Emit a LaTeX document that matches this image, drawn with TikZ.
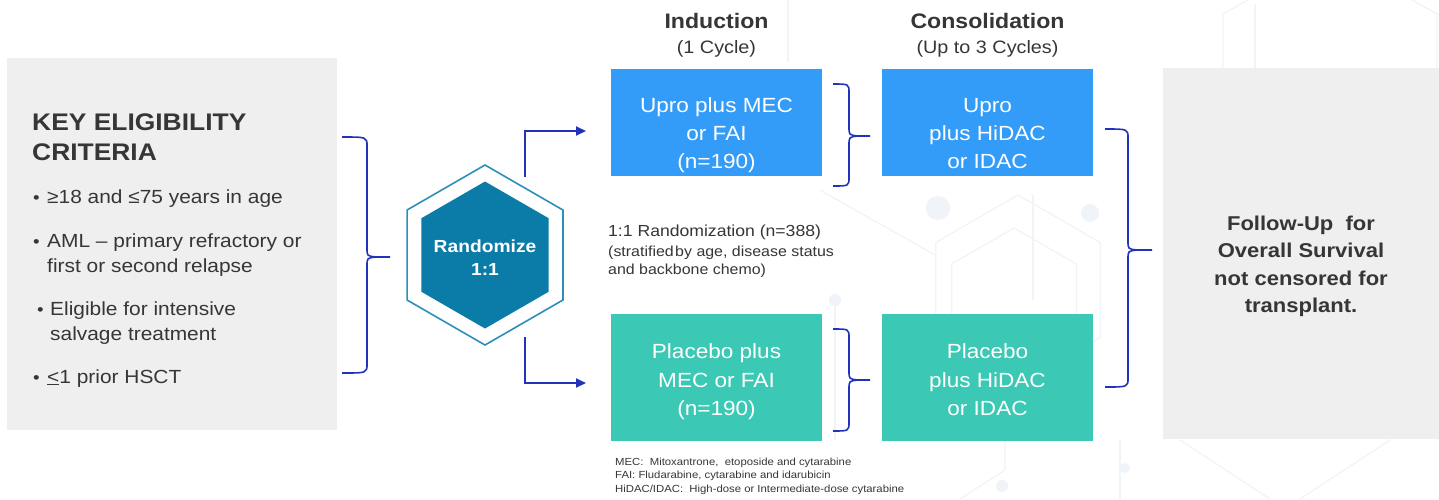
\documentclass[tikz,border=0pt]{standalone}
\usepackage{fontspec}
\setmainfont{Liberation Sans}[FakeStretch=1.1]
\usetikzlibrary{arrows.meta}

\definecolor{textdark}{HTML}{363636}
\definecolor{panelgrey}{HTML}{EFEFEF}
\definecolor{armblue}{HTML}{339CF8}
\definecolor{armteal}{HTML}{3BC8B4}
\definecolor{hexfill}{HTML}{0B7BA7}
\definecolor{hexline}{HTML}{2C8FBA}
\definecolor{linkblue}{HTML}{2233BB}
\definecolor{bgline}{HTML}{F0F3F7}

\newcommand{\setfs}[1]{\fontsize{#1}{#1}\selectfont}

% curly bracket: #1 start x, #2 spine x, #3 top y, #4 middle y, #5 bottom y, #6 tip x
\newcommand{\curlybrace}[6]{%
  \draw[bracket] (#1,#3) .. controls (#2,#3) .. (#2,#3+9) -- (#2,#4-9)
        .. controls (#2,#4-1) .. (#2+9,#4) -- (#6,#4);
  \draw[bracket] (#1,#5) .. controls (#2,#5) .. (#2,#5-9) -- (#2,#4+9)
        .. controls (#2,#4+1) .. (#2+9,#4);
}

\begin{document}
\begin{tikzpicture}[x=1pt,y=-1pt,
  lt/.style={inner sep=0pt, anchor=base west, text=textdark},
  ct/.style={inner sep=0pt, anchor=base, text=textdark},
  wt/.style={inner sep=0pt, anchor=base, text=white},
  panel/.style={fill=panelgrey, draw=none, inner sep=0pt, anchor=north west},
  armbox/.style={draw=none, inner sep=0pt, anchor=north west,
                 minimum width=211pt, minimum height=107pt},
  bracket/.style={draw=linkblue, line width=1.6pt},
  arr/.style={draw=linkblue, line width=2pt,
              -{Triangle[length=10pt,width=9pt]}},
  faint/.style={draw=bgline, line width=1.2pt}]

\useasboundingbox (0,0) rectangle (1439,499);
\fill[white] (0,0) rectangle (1439,499);

% faint hexagon network in the background
\draw[faint] (1018,290) ++(90:95) -- ++(210:95) -- ++(270:95) -- ++(330:95)
             -- ++(30:95) -- ++(90:95) -- cycle;
\draw[faint] (1014,300) ++(90:72) -- ++(210:72) -- ++(270:72) -- ++(330:72)
             -- ++(30:72) -- ++(90:72) -- cycle;
\draw[faint] (1033,195) -- (1033,300);
\draw[faint] (788,0) -- (788,62);
\draw[faint] (820,190) -- (935,255);
\draw[faint] (835,300) -- (835,440);
\fill[bgline] (938,208) circle (12);
\fill[bgline] (1090,213) circle (9);
\fill[bgline] (835,300) circle (6);
\draw[faint] (1223,68) -- (1223,14) -- (1248,0);
\draw[faint] (1255,68) -- (1255,4);
\draw[faint] (1437,68) -- (1437,14) -- (1412,0);
\draw[faint] (1180,440) -- (1270,499);
\draw[faint] (1300,499) -- (1390,440);
\draw[faint] (1120,440) -- (1120,499);
\fill[bgline] (1125,468) circle (5);
\draw[faint] (960,499) -- (1005,470) -- (1005,440);
\fill[bgline] (1002,486) circle (6);

% eligibility panel
\node[panel, minimum width=330pt, minimum height=372pt] (elig) at (7,58) {};
\node[lt, font=\setfs{24}\bfseries] (k1) at (32,130) {KEY ELIGIBILITY};
\node[lt, font=\setfs{24}\bfseries] (k2) at (32,160) {CRITERIA};
\node[lt, font=\setfs{17}] (b1) at (33,203) {•};
\node[lt, font=\setfs{19}] (c1) at (47,203) {≥18 and ≤75 years in age};
\node[lt, font=\setfs{17}] (b2) at (33,247) {•};
\node[lt, font=\setfs{19}] (c2a) at (47,247) {AML – primary refractory or};
\node[lt, font=\setfs{19}] (c2b) at (47,272) {first or second relapse};
\node[lt, font=\setfs{17}] (b3) at (37,315) {•};
\node[lt, font=\setfs{19}] (c3a) at (50,315) {Eligible for intensive};
\node[lt, font=\setfs{19}] (c3b) at (50,340) {salvage treatment};
\node[lt, font=\setfs{17}] (b4) at (33,383) {•};
\node[lt, font=\setfs{19}] (c4) at (47,383) {\underline{<}1 prior HSCT};

\curlybrace{342}{367}{137}{257}{373}{390}

% randomisation hexagon
\coordinate (hc) at (485,255);
\draw[hexline, line width=1.6pt, fill=white]
  (hc) ++(90:90) -- ++(210:90) -- ++(270:90) -- ++(330:90)
       -- ++(30:90) -- ++(90:90) -- cycle;
\fill[hexfill]
  (hc) ++(90:73.5) -- ++(210:73.5) -- ++(270:73.5) -- ++(330:73.5)
       -- ++(30:73.5) -- ++(90:73.5) -- cycle;
\node[wt, font=\setfs{17.5}\bfseries] (r1) at (485,252) {Randomize};
\node[wt, font=\setfs{17.5}\bfseries] (r2) at (485,275) {1:1};

% arrows into the two arms
\coordinate (upfrom) at (525,177);
\coordinate (upto) at (586,131);
\coordinate (dnfrom) at (525,337);
\coordinate (dnto) at (586,383);
\draw[arr] (upfrom) |- (upto);
\draw[arr] (dnfrom) |- (dnto);

% column headings
\node[ct, font=\setfs{21}\bfseries] (h1) at (716.5,28) {Induction};
\node[ct, font=\setfs{18}] (h1s) at (716.5,53) {(1 Cycle)};
\node[ct, font=\setfs{21}\bfseries] (h2) at (987.5,28) {Consolidation};
\node[ct, font=\setfs{18}] (h2s) at (987.5,53) {(Up to 3 Cycles)};

% treatment arms
\node[armbox, fill=armblue] (indA) at (611,69) {};
\node[armbox, fill=armblue] (conA) at (882,69) {};
\node[armbox, fill=armteal, minimum height=127pt] (indB) at (611,314) {};
\node[armbox, fill=armteal, minimum height=127pt] (conB) at (882,314) {};

\node[wt, font=\setfs{20.5}] (ia1) at (716.5,112) {Upro plus MEC};
\node[wt, font=\setfs{20.5}] (ia2) at (716.5,140) {or FAI};
\node[wt, font=\setfs{20.5}] (ia3) at (716.5,168) {(n=190)};
\node[wt, font=\setfs{20.5}] (ca1) at (987.5,112) {Upro};
\node[wt, font=\setfs{20.5}] (ca2) at (987.5,140) {plus HiDAC};
\node[wt, font=\setfs{20.5}] (ca3) at (987.5,168) {or IDAC};
\node[wt, font=\setfs{20.5}] (ib1) at (716.5,358) {Placebo plus};
\node[wt, font=\setfs{20.5}] (ib2) at (716.5,387) {MEC or FAI};
\node[wt, font=\setfs{20.5}] (ib3) at (716.5,415) {(n=190)};
\node[wt, font=\setfs{20.5}] (cb1) at (987.5,358) {Placebo};
\node[wt, font=\setfs{20.5}] (cb2) at (987.5,387) {plus HiDAC};
\node[wt, font=\setfs{20.5}] (cb3) at (987.5,415) {or IDAC};

\curlybrace{833}{849}{84}{136}{186}{870}
\curlybrace{833}{849}{329}{380}{431}{870}

% randomisation note
\node[lt, font=\setfs{16}] (n1) at (608,236) {1:1 Randomization (n=388)};
\node[lt, font=\setfs{14.5}] (n2) at (608,256) {(stratified\hspace{0.1em}by age, disease status};
\node[lt, font=\setfs{14.5}] (n3) at (608,274) {and backbone chemo)};

% abbreviations
\node[lt, font=\setfs{10.3}] (f1) at (615,465) {MEC:\ \ Mitoxantrone,\ \ etoposide and cytarabine};
\node[lt, font=\setfs{10.3}] (f2) at (615,478.5) {FAI: Fludarabine, cytarabine and idarubicin};
\node[lt, font=\setfs{10.3}] (f3) at (615,492) {HiDAC/IDAC:\ \ High-dose or Intermediate-dose cytarabine};

\curlybrace{1105}{1128}{129}{250}{387}{1152}

% follow-up panel
\node[panel, minimum width=276pt, minimum height=371pt] (fu) at (1163,68) {};
\node[ct, font=\setfs{20}\bfseries] (fu1) at (1301,230) {Follow-Up\ \ for};
\node[ct, font=\setfs{20}\bfseries] (fu2) at (1301,257) {Overall Survival};
\node[ct, font=\setfs{20}\bfseries] (fu3) at (1301,285) {not censored for};
\node[ct, font=\setfs{20}\bfseries] (fu4) at (1301,312) {transplant.};

\end{tikzpicture}
\end{document}
